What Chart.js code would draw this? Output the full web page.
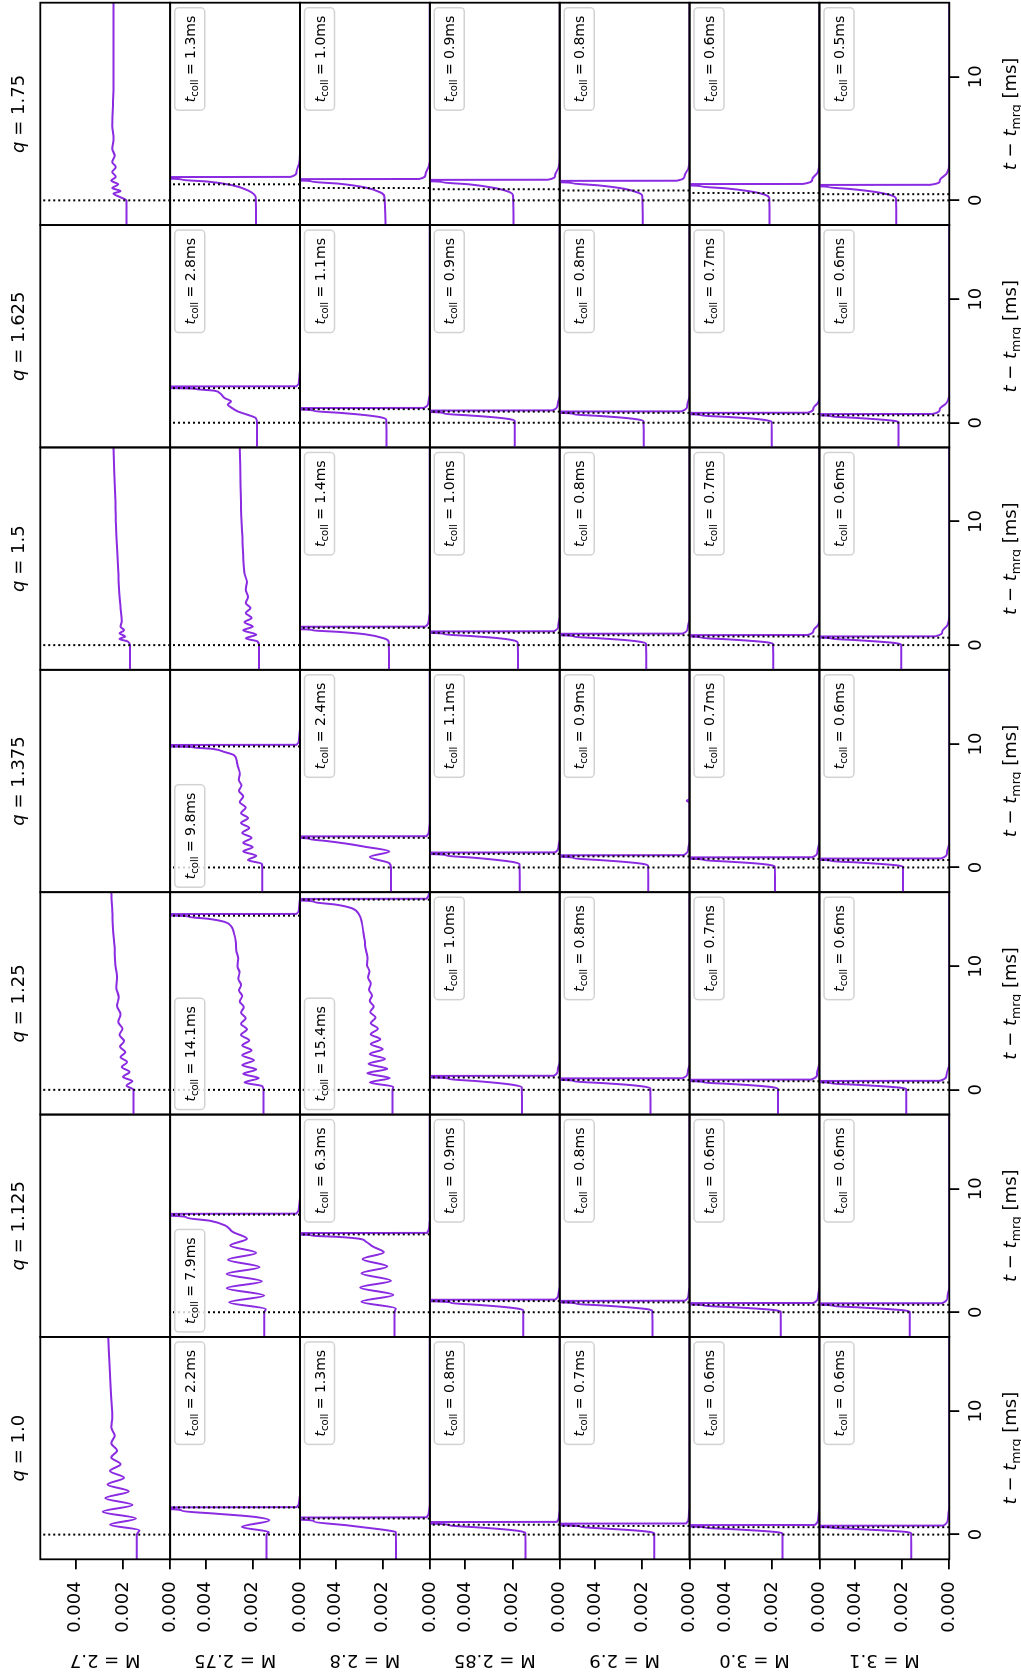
<!DOCTYPE html>
<html>
<head>
<meta charset="utf-8">
<title>Collapse grid</title>
<script src="https://cdn.jsdelivr.net/npm/chart.js"></script>
<style>
  html, body { margin: 0; padding: 0; background: #fff; width: 1021px; height: 1677px; overflow: hidden; }
  /* the figure is laid out landscape and turned a quarter turn counter-clockwise */
  #fig { position: absolute; left: 0; top: 0; width: 1677px; height: 1021px; background: #fff;
         transform-origin: 0 0; transform: translate(0px, 1677px) rotate(-90deg); }
  #fig canvas { position: absolute; }
</style>
</head>
<body>
<div id="fig"></div>
<script>
// ---- grid categories -------------------------------------------------------
const qLabels    = ['1.0', '1.125', '1.25', '1.375', '1.5', '1.625', '1.75'];
const massLabels = ['2.7', '2.75', '2.8', '2.85', '2.9', '3.0', '3.1'];

// collapse time t_coll in ms, indexed [q][M]; null = no collapse in the run
const tCollapse = [
  [null, 2.2,  1.3,  0.8, 0.7, 0.6, 0.6],
  [null, 7.9,  6.3,  0.9, 0.8, 0.6, 0.6],
  [null, 14.1, 15.4, 1.0, 0.8, 0.7, 0.6],
  [null, 9.8,  2.4,  1.1, 0.9, 0.7, 0.6],
  [null, null, 1.4,  1.0, 0.8, 0.7, 0.6],
  [null, 2.8,  1.1,  0.9, 0.8, 0.7, 0.6],
  [null, 1.3,  1.0,  0.9, 0.8, 0.6, 0.5]
];

// runs whose t_coll label sits in the upper-left corner instead of upper-right
const labelLeft = [[1, 1], [2, 1], [2, 2], [3, 1]];

// axis ticks (time in ms, value in units of 1e-3)
const timeTicks  = [0, 10];
const valueTicks = [0, 2, 4];
const timeRange  = [-2, 16];
const valueRange = [0, 5.5];

// ---- curves: [t - t_mrg (ms), value (1e-3)] per mass, one array per q -------
const curvesQ1000 = [
  [[-2,1.42],[0,1.42],[0.35,1.3],[0.8,2.55],[1.3,1.45],[1.85,2.85],[2.4,1.6],[2.95,2.75],[3.5,1.75],[4.05,2.65],[4.6,1.95],[5.15,2.55],[5.7,2.1],[6.25,2.5],[6.8,2.25],[7.4,2.5],[8.0,2.35],[8.7,2.5],[9.5,2.45],[11,2.5],[13,2.55],[16,2.62]],
  [[-2,1.42],[0,1.42],[0.2,1.32],[0.62,2.47],[1.15,1.3],[1.45,2.0],[1.7,3.6],[1.92,5.0],[2.05,5.35],[2.1,40],[2.22,0.15],[2.6,0.04],[3.2,0],[16,0]],
  [[-2,1.43],[0.2,1.44],[0.3,1.65],[0.45,2.2],[0.75,3.5],[1.05,4.9],[1.2,5.35],[1.26,40],[1.4,0.15],[1.9,0.04],[2.5,0],[16,0]],
  [[-2,1.45],[0.15,1.46],[0.3,1.75],[0.45,2.5],[0.6,3.6],[0.75,4.7],[0.88,5.35],[0.93,40],[1.03,0.12],[1.5,0.03],[2.2,0],[16,0]],
  [[-2,1.5],[0.1,1.5],[0.22,1.7],[0.35,2.4],[0.48,3.5],[0.62,4.6],[0.75,5.35],[0.8,40],[0.9,0.15],[1.4,0.04],[2.2,0],[16,0]],
  [[-2,1.56],[0.08,1.56],[0.2,1.8],[0.32,2.6],[0.44,3.7],[0.55,4.8],[0.64,5.35],[0.69,40],[0.78,0.2],[1.3,0.05],[2.2,0],[16,0]],
  [[-2,1.61],[0.1,1.62],[0.22,1.85],[0.35,2.9],[0.47,4.1],[0.55,5.0],[0.61,5.35],[0.65,40],[0.73,0.25],[1.3,0.06],[2.2,0],[16,0]]
];

const curvesQ1125 = [
  null,
  [[-2,1.52],[0,1.52],[0.25,1.45],[0.8,3.0],[1.35,1.52],[1.95,3.1],[2.5,1.62],[3.1,3.1],[3.65,1.72],[4.25,3.05],[4.8,1.85],[5.4,2.95],[5.95,2.25],[6.5,2.85],[7.0,3.15],[7.4,3.8],[7.65,4.8],[7.8,5.35],[7.86,40],[7.98,0.15],[8.5,0.04],[9.2,0],[16,0]],
  [[-2,1.5],[0,1.5],[0.3,1.45],[0.85,2.9],[1.4,1.55],[2.0,2.95],[2.55,1.65],[3.15,2.9],[3.7,1.8],[4.3,2.85],[4.85,1.95],[5.3,2.4],[5.7,2.7],[5.95,3.0],[6.1,3.9],[6.2,5.0],[6.27,5.35],[6.32,40],[6.42,0.12],[6.9,0.03],[7.6,0],[16,0]],
  [[-2,1.54],[0.15,1.55],[0.3,1.8],[0.45,2.5],[0.6,3.5],[0.75,4.6],[0.88,5.35],[0.93,40],[1.02,0.2],[1.5,0.05],[2.2,0],[16,0]],
  [[-2,1.57],[0.1,1.58],[0.25,1.8],[0.4,2.6],[0.55,3.7],[0.68,4.8],[0.79,5.35],[0.84,40],[0.93,0.2],[1.4,0.05],[2.2,0],[16,0]],
  [[-2,1.64],[0.05,1.64],[0.17,1.9],[0.3,2.7],[0.42,3.8],[0.53,4.9],[0.62,5.35],[0.66,40],[0.75,0.25],[1.25,0.06],[2.1,0],[16,0]],
  [[-2,1.68],[0.05,1.68],[0.16,1.95],[0.28,2.8],[0.4,3.9],[0.5,4.9],[0.6,5.35],[0.64,40],[0.73,0.3],[1.25,0.08],[2.1,0],[16,0]]
];

const curvesQ1250 = [
  [[-2,1.55],[0,1.55],[0.35,1.85],[0.7,1.6],[1.05,2.0],[1.45,1.72],[1.85,2.05],[2.25,1.82],[2.65,2.1],[3.05,1.9],[3.5,2.12],[3.95,1.95],[4.45,2.15],[4.95,2.02],[5.5,2.2],[6.1,2.1],[6.8,2.25],[7.5,2.18],[8.3,2.28],[9.2,2.25],[10.2,2.33],[11.5,2.35],[13,2.42],[14.5,2.45],[16,2.5]],
  [[-2,1.55],[0,1.55],[0.3,1.6],[0.6,2.35],[0.95,1.75],[1.3,2.4],[1.65,1.85],[2.0,2.45],[2.4,1.95],[2.8,2.45],[3.2,2.05],[3.6,2.45],[4.0,2.15],[4.45,2.5],[4.9,2.25],[5.35,2.5],[5.8,2.3],[6.25,2.5],[6.7,2.38],[7.15,2.55],[7.6,2.45],[8.05,2.58],[8.5,2.5],[9.0,2.62],[9.5,2.56],[10.0,2.65],[10.6,2.62],[11.3,2.7],[12.0,2.72],[12.7,2.8],[13.2,2.9],[13.6,3.2],[13.85,3.9],[14.0,4.7],[14.1,5.35],[14.15,40],[14.24,0.15],[14.7,0.04],[15.5,0],[16,0]],
  [[-2,1.58],[0,1.58],[0.25,1.55],[0.6,2.55],[0.95,1.7],[1.35,2.65],[1.7,1.8],[2.1,2.6],[2.5,1.9],[2.9,2.55],[3.3,2.0],[3.7,2.5],[4.1,2.1],[4.5,2.5],[4.95,2.2],[5.4,2.5],[5.85,2.3],[6.3,2.52],[6.75,2.38],[7.2,2.55],[7.65,2.45],[8.1,2.58],[8.6,2.5],[9.1,2.62],[9.6,2.56],[10.1,2.66],[10.7,2.64],[11.4,2.72],[12.1,2.76],[12.8,2.82],[13.5,2.88],[14.2,3.0],[14.7,3.3],[15.0,4.0],[15.2,4.9],[15.32,5.35],[15.37,40],[15.47,0.15],[16,0.03]],
  [[-2,1.6],[0.2,1.61],[0.38,1.9],[0.55,2.6],[0.72,3.6],[0.88,4.7],[1.0,5.35],[1.05,40],[1.14,0.25],[1.6,0.08],[2.3,0],[16,0]],
  [[-2,1.66],[0.12,1.67],[0.27,1.95],[0.42,2.7],[0.56,3.8],[0.69,4.9],[0.8,5.35],[0.85,40],[0.94,0.3],[1.4,0.08],[2.2,0],[16,0]],
  [[-2,1.75],[0.08,1.76],[0.22,2.0],[0.36,2.8],[0.49,3.9],[0.6,4.9],[0.7,5.35],[0.74,40],[0.83,0.35],[1.3,0.1],[2.2,0],[16,0]],
  [[-2,1.82],[0.05,1.82],[0.17,2.05],[0.3,2.9],[0.42,4.0],[0.52,5.0],[0.61,5.35],[0.65,40],[0.73,0.4],[1.2,0.12],[2.1,0],[16,0]]
];

const curvesQ1375 = [
  null,
  [[-2,1.6],[0,1.6],[0.3,1.62],[0.6,2.2],[0.95,1.85],[1.3,2.4],[1.65,2.0],[2.0,2.4],[2.4,2.05],[2.8,2.45],[3.2,2.15],[3.6,2.5],[4.0,2.2],[4.4,2.5],[4.85,2.3],[5.3,2.55],[5.75,2.4],[6.2,2.58],[6.65,2.48],[7.1,2.6],[7.6,2.55],[8.1,2.62],[8.6,2.68],[9.1,2.8],[9.35,3.2],[9.6,3.7],[9.72,4.5],[9.78,5.35],[9.83,40],[9.93,0.15],[10.4,0.04],[11.2,0],[16,0]],
  [[-2,1.65],[0,1.65],[0.35,1.72],[0.85,2.55],[1.3,1.72],[1.68,2.75],[1.92,3.5],[2.15,4.4],[2.3,5.1],[2.38,5.35],[2.43,40],[2.53,0.15],[3.0,0.04],[3.8,0],[16,0]],
  [[-2,1.69],[0.25,1.7],[0.45,2.0],[0.62,2.7],[0.8,3.7],[0.96,4.8],[1.08,5.35],[1.13,40],[1.22,0.2],[1.7,0.05],[2.4,0],[16,0]],
  [[-2,1.75],[0.15,1.76],[0.3,2.0],[0.46,2.8],[0.6,3.8],[0.74,4.9],[0.86,5.35],[0.91,40],[1.0,0.25],[1.5,0.06],[2.2,0],[5.25,0],[5.4,0.12],[5.55,0],[16,0]],
  [[-2,1.88],[0.08,1.89],[0.22,2.15],[0.36,2.9],[0.48,3.9],[0.6,4.9],[0.7,5.35],[0.74,40],[0.83,0.3],[1.3,0.08],[2.1,0],[16,0]],
  [[-2,1.96],[0.05,1.96],[0.17,2.2],[0.3,3.0],[0.42,4.0],[0.52,5.0],[0.61,5.35],[0.65,40],[0.73,0.35],[1.2,0.1],[2.0,0],[16,0]]
];

const curvesQ1500 = [
  [[-2,1.7],[0,1.7],[0.3,1.8],[0.5,2.15],[0.7,1.9],[0.95,2.15],[1.2,1.95],[1.5,2.1],[2,2.05],[3,2.1],[4,2.15],[6,2.2],[8,2.25],[10,2.3],[12,2.33],[14,2.37],[16,2.4]],
  [[-2,1.74],[0,1.74],[0.3,1.8],[0.55,2.3],[0.85,1.85],[1.2,2.4],[1.5,2.0],[1.85,2.35],[2.2,2.05],[2.6,2.3],[3.0,2.1],[3.4,2.3],[3.9,2.2],[4.5,2.3],[5.1,2.25],[5.8,2.35],[7,2.4],[9,2.45],[11,2.5],[13,2.52],[16,2.55]],
  [[-2,1.73],[0.25,1.74],[0.55,1.95],[0.88,2.75],[1.07,3.85],[1.2,4.95],[1.28,5.35],[1.4,40],[1.5,0.2],[2.0,0.05],[2.7,0],[16,0]],
  [[-2,1.77],[0.2,1.78],[0.4,2.0],[0.58,2.7],[0.74,3.8],[0.88,4.9],[0.98,5.35],[1.03,40],[1.12,0.25],[1.6,0.06],[2.3,0],[16,0]],
  [[-2,1.84],[0.12,1.85],[0.27,2.1],[0.42,2.8],[0.56,3.9],[0.68,4.9],[0.79,5.35],[0.84,40],[0.93,0.3],[1.4,0.08],[2.2,0],[16,0]],
  [[-2,1.96],[0.08,1.97],[0.22,2.2],[0.36,3.0],[0.48,4.0],[0.59,5.0],[0.69,5.35],[0.73,40],[0.82,0.5],[1.2,0.25],[1.6,0.07],[2.4,0],[16,0]],
  [[-2,2.04],[0.05,2.04],[0.17,2.3],[0.3,3.1],[0.42,4.1],[0.52,5.0],[0.6,5.35],[0.63,40],[0.71,0.6],[1.1,0.3],[1.6,0.08],[2.4,0],[16,0]]
];

const curvesQ1625 = [
  null,
  [[-2,1.82],[0.05,1.82],[0.38,1.87],[0.65,2.23],[0.92,2.64],[1.24,2.92],[1.46,3.06],[1.73,2.92],[2.0,3.2],[2.4,3.4],[2.6,3.65],[2.73,4.4],[2.8,5.35],[2.85,40],[2.95,0.15],[3.4,0.04],[4.2,0],[16,0]],
  [[-2,1.84],[0.25,1.85],[0.45,2.1],[0.63,2.8],[0.8,3.8],[0.95,4.9],[1.06,5.35],[1.11,40],[1.2,0.25],[1.7,0.06],[2.4,0],[16,0]],
  [[-2,1.9],[0.15,1.91],[0.3,2.15],[0.46,2.9],[0.6,3.9],[0.74,4.9],[0.86,5.35],[0.91,40],[1.0,0.3],[1.5,0.08],[2.2,0],[16,0]],
  [[-2,1.94],[0.12,1.95],[0.27,2.2],[0.42,2.9],[0.56,3.9],[0.68,4.9],[0.79,5.35],[0.84,40],[0.92,0.35],[1.4,0.1],[2.2,0],[16,0]],
  [[-2,2.02],[0.08,2.03],[0.22,2.3],[0.36,3.0],[0.48,4.0],[0.59,5.0],[0.68,5.35],[0.72,40],[0.81,0.5],[1.2,0.25],[1.6,0.07],[2.4,0],[16,0]],
  [[-2,2.15],[0.05,2.15],[0.17,2.4],[0.3,3.2],[0.41,4.1],[0.51,5.0],[0.59,5.35],[0.63,40],[0.71,0.7],[1.1,0.4],[1.6,0.12],[2.5,0],[16,0]]
];

const curvesQ1750 = [
  [[-2,1.85],[0,1.85],[0.25,2.1],[0.55,2.4],[0.75,2.1],[1.0,2.45],[1.3,2.2],[1.6,2.5],[1.9,2.3],[2.3,2.45],[2.7,2.3],[3.1,2.45],[3.6,2.35],[4.2,2.45],[5,2.4],[6,2.45],[8,2.42],[10,2.4],[12,2.4],[14,2.4],[16,2.4]],
  [[-2,1.86],[0.2,1.87],[0.8,2.2],[1.24,2.9],[1.52,3.9],[1.67,5.0],[1.75,5.35],[1.8,40],[1.9,0.4],[2.3,0.15],[3.0,0.03],[3.8,0],[16,0]],
  [[-2,1.88],[0.35,1.93],[0.65,2.1],[1.05,2.75],[1.35,3.85],[1.52,5.0],[1.6,5.35],[1.64,40],[1.73,0.45],[2.1,0.18],[2.8,0.04],[3.6,0],[16,0]],
  [[-2,1.96],[0.4,1.98],[0.65,2.1],[1.0,2.75],[1.3,3.85],[1.46,4.95],[1.54,5.35],[1.58,40],[1.67,0.5],[2.0,0.2],[2.7,0.04],[3.5,0],[16,0]],
  [[-2,1.98],[0.35,2.0],[0.6,2.15],[0.95,2.8],[1.22,3.9],[1.38,4.95],[1.46,5.35],[1.5,40],[1.59,0.55],[1.95,0.22],[2.6,0.05],[3.4,0],[16,0]],
  [[-2,2.12],[0.2,2.13],[0.45,2.3],[0.75,3.0],[0.98,4.0],[1.12,5.0],[1.2,5.35],[1.24,40],[1.33,0.7],[1.7,0.3],[2.3,0.06],[3.2,0],[16,0]],
  [[-2,2.25],[0.15,2.26],[0.4,2.45],[0.7,3.2],[0.92,4.2],[1.06,5.1],[1.13,5.35],[1.17,40],[1.26,0.8],[1.6,0.4],[2.2,0.1],[3.0,0],[16,0]]
];

const curvesByQ = [curvesQ1000, curvesQ1125, curvesQ1250, curvesQ1375, curvesQ1500, curvesQ1625, curvesQ1750];

// ---- layout (landscape figure coordinates, px) ------------------------------
const FIG_W = 1677, FIG_H = 1021;
const GRID = { left: 117.7, right: 1674.3, top: 40.3, bottom: 949.3 };
const MARGIN = 12;
const LINE_COLOR = '#8a2be2';
const FONT = "'DejaVu Sans', 'Liberation Sans', sans-serif";
const font = (size, italic) => (italic ? 'italic ' : '') + size + 'px ' + FONT;

Chart.defaults.font.family = FONT;
Chart.defaults.color = '#000';

// draws a run of differently styled text pieces on one baseline
function drawRich(ctx, segs, x, y, align) {
  let total = 0;
  for (const s of segs) { ctx.font = s.font; s.w = ctx.measureText(s.text).width; total += s.w; }
  let cx = align === 'center' ? x - total / 2 : x;
  ctx.textAlign = 'left';
  ctx.textBaseline = 'alphabetic';
  ctx.fillStyle = '#000';
  for (const s of segs) { ctx.font = s.font; ctx.fillText(s.text, cx, y + (s.dy || 0)); cx += s.w; }
  return total;
}
function measureRich(ctx, segs) {
  let total = 0;
  for (const s of segs) { ctx.font = s.font; total += ctx.measureText(s.text).width; }
  return total;
}

// frame, t_coll label, column title and time-axis label of one panel
const panelDecor = {
  id: 'panelDecor',
  afterDatasetsDraw(chart, args, opts) {
    const { ctx, chartArea: a } = chart;
    ctx.save();
    ctx.strokeStyle = '#000';
    ctx.lineWidth = 1.8;
    ctx.strokeRect(a.left, a.top, a.right - a.left, a.bottom - a.top);

    if (opts.tColl != null) {
      const segs = [
        { text: 't', font: font(14, true) },
        { text: 'coll', font: font(10), dy: 3 },
        { text: ' = ' + opts.tColl.toFixed(1) + 'ms', font: font(14) }
      ];
      const w = measureRich(ctx, segs) + 16, h = 30;
      const x0 = opts.boxLeft ? a.left + 5 : a.right - 5 - w;
      const y0 = a.top + 4.5;
      ctx.beginPath();
      ctx.roundRect(x0, y0, w, h, 4);
      ctx.fillStyle = 'rgba(255,255,255,0.8)';
      ctx.fill();
      ctx.strokeStyle = '#d2d2d2';
      ctx.lineWidth = 1.5;
      ctx.stroke();
      drawRich(ctx, segs, x0 + 8, y0 + 20, 'left');
    }
    if (opts.title) {
      drawRich(ctx, [
        { text: 'q', font: font(18, true) },
        { text: ' = ' + opts.title, font: font(18) }
      ], (a.left + a.right) / 2, a.top - 16.3, 'center');
    }
    if (opts.timeLabel) {
      drawRich(ctx, [
        { text: 't', font: font(18, true) },
        { text: ' \u2212 ', font: font(18) },
        { text: 't', font: font(18, true) },
        { text: 'mrg', font: font(12.6), dy: 3.6 },
        { text: ' [ms]', font: font(18) }
      ], (a.left + a.right) / 2, a.bottom + 66.7, 'center');
    }
    ctx.restore();
  }
};

function markerLine(t) {
  return {
    data: [{ x: t, y: valueRange[0] }, { x: t, y: valueRange[1] }],
    borderColor: '#000', borderWidth: 2, borderDash: [2, 3],
    pointRadius: 0, tension: 0, clip: 0
  };
}

function zeroPadding(s) { s.paddingLeft = s.paddingRight = s.paddingTop = s.paddingBottom = 0; }

const fig = document.getElementById('fig');
const nCols = qLabels.length, nRows = massLabels.length;
const colW = (GRID.right - GRID.left) / nCols;
const rowH = (GRID.bottom - GRID.top) / nRows;

for (let c = 0; c < nCols; c++) {
  for (let r = 0; r < nRows; r++) {
    const pl = GRID.left + c * colW, pr = pl + colW;
    const pt = GRID.top + r * rowH, pb = pt + rowH;
    const firstCol = c === 0, lastCol = c === nCols - 1;
    const topRow = r === 0, bottomRow = r === nRows - 1;

    const cl = firstCol ? 0 : Math.floor(pl - MARGIN);
    const ct = topRow ? 0 : Math.floor(pt - MARGIN);
    const cr = lastCol ? FIG_W : Math.ceil(pr + MARGIN);
    const cb = bottomRow ? FIG_H : Math.ceil(pb + MARGIN);

    const canvas = document.createElement('canvas');
    canvas.width = cr - cl;
    canvas.height = cb - ct;
    canvas.style.left = cl + 'px';
    canvas.style.top = ct + 'px';
    fig.appendChild(canvas);

    const yAxisW = firstCol ? pl - cl : 0;
    const xAxisH = bottomRow ? cb - pb : 0;

    const datasets = [];
    const pts = curvesByQ[c][r];
    const tc = tCollapse[c][r];
    if (pts) {
      datasets.push(markerLine(0));
      if (tc != null) datasets.push(markerLine(tc));
      datasets.push({
        data: pts.map(([x, y]) => ({ x, y })),
        borderColor: LINE_COLOR, borderWidth: 2,
        pointRadius: 0, cubicInterpolationMode: 'monotone', clip: 0
      });
    }

    new Chart(canvas, {
      type: 'line',
      data: { datasets },
      plugins: [panelDecor],
      options: {
        responsive: false,
        animation: false,
        devicePixelRatio: 1,
        events: [],
        layout: {
          autoPadding: false,
          padding: {
            left: firstCol ? 0 : pl - cl,
            right: cr - pr,
            top: pt - ct,
            bottom: bottomRow ? 0 : cb - pb
          }
        },
        plugins: {
          legend: { display: false },
          tooltip: { enabled: false },
          panelDecor: {
            tColl: tc,
            boxLeft: labelLeft.some(([qc, mr]) => qc === c && mr === r),
            title: topRow ? qLabels[c] : null,
            timeLabel: bottomRow
          }
        },
        scales: {
          x: {
            type: 'linear',
            min: timeRange[0], max: timeRange[1],
            display: bottomRow,
            afterBuildTicks: s => { s.ticks = timeTicks.map(v => ({ value: v })); },
            afterFit: s => { s.height = xAxisH; zeroPadding(s); },
            grid: { drawOnChartArea: false, drawTicks: true, tickLength: 10, color: '#000', lineWidth: 1.8 },
            border: { display: false },
            ticks: {
              color: '#000', font: { size: 18 }, padding: 6,
              maxRotation: 0, minRotation: 0, autoSkip: false,
              callback: v => String(v)
            }
          },
          y: {
            type: 'linear',
            min: valueRange[0], max: valueRange[1],
            display: firstCol,
            afterBuildTicks: s => { s.ticks = valueTicks.map(v => ({ value: v })); },
            afterFit: s => { s.width = yAxisW; zeroPadding(s); },
            grid: { drawOnChartArea: false, drawTicks: true, tickLength: 10, color: '#000', lineWidth: 1.8 },
            border: { display: false },
            ticks: {
              color: '#000', font: { size: 18 }, padding: 12, autoSkip: false,
              callback: v => (v / 1000).toFixed(3)
            },
            title: {
              display: true, text: 'M = ' + massLabels[r], color: '#000',
              font: { size: 18 }, padding: { top: 7, bottom: 0 }
            }
          }
        }
      }
    });
  }
}
</script>
</body>
</html>
